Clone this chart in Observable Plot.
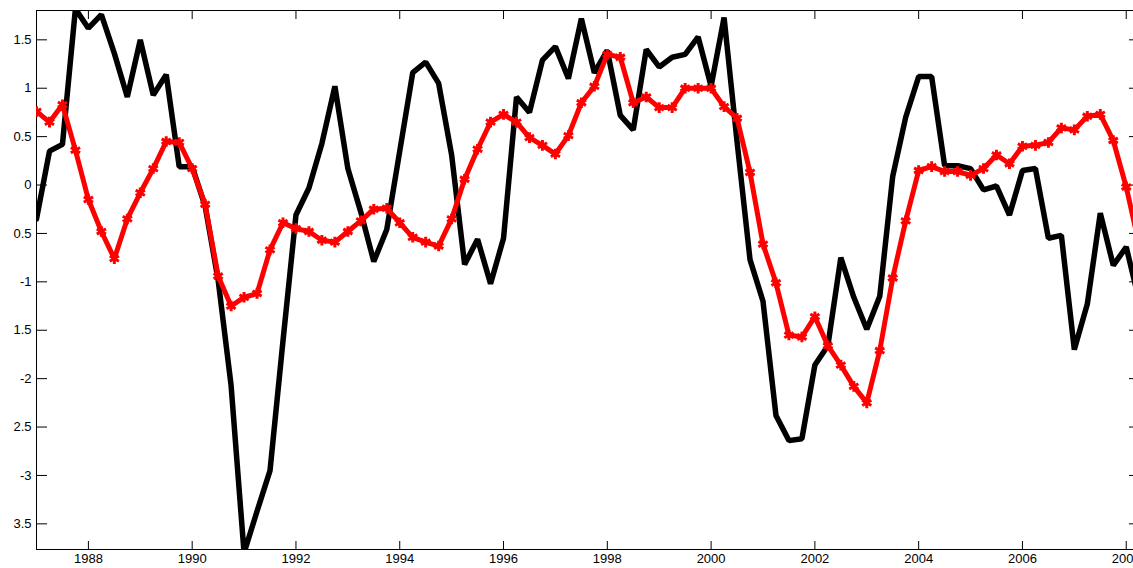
<!DOCTYPE html>
<html>
<head>
<meta charset="utf-8">
<script src="https://cdn.jsdelivr.net/npm/d3@7"></script>
<script src="https://cdn.jsdelivr.net/npm/@observablehq/plot@0.6"></script>
<style>
  html, body { margin: 0; padding: 0; background: #fff; overflow: hidden; }
  #chart svg { display: block; }
</style>
</head>
<body>
<div id="chart"></div>
<script>
// Quarterly series, starting 1987 Q1
const startYear = 1987;
const blackSeries = [
  -0.35, 0.35, 0.42, 1.82,
  1.62, 1.76, 1.36, 0.91,
  1.50, 0.93, 1.14, 0.19,
  0.19, -0.22, -0.98, -2.07,
  -3.80, -3.37, -2.95, -1.61,
  -0.31, -0.03, 0.43, 1.02,
  0.17, -0.28, -0.79, -0.46,
  0.35, 1.16, 1.27, 1.05,
  0.31, -0.82, -0.56, -1.02,
  -0.55, 0.91, 0.75, 1.29,
  1.43, 1.10, 1.72, 1.16,
  1.39, 0.72, 0.57, 1.40,
  1.22, 1.32, 1.35, 1.53,
  1.02, 1.73, 0.45, -0.77,
  -1.20, -2.38, -2.64, -2.62,
  -1.86, -1.66, -0.75, -1.16,
  -1.49, -1.15, 0.09, 0.70,
  1.12, 1.12, 0.20, 0.20,
  0.17, -0.05, -0.01, -0.31,
  0.15, 0.17, -0.55, -0.52,
  -1.70, -1.23, -0.29, -0.83,
  -0.64, -1.20
];
const redSeries = [
  0.76, 0.65, 0.83, 0.36,
  -0.15, -0.48, -0.76, -0.35,
  -0.08, 0.17, 0.45, 0.44,
  0.17, -0.20, -0.94, -1.25,
  -1.16, -1.12, -0.67, -0.39,
  -0.45, -0.48, -0.57, -0.59,
  -0.48, -0.37, -0.25, -0.24,
  -0.39, -0.54, -0.59, -0.63,
  -0.35, 0.06, 0.37, 0.65,
  0.73, 0.65, 0.49, 0.41,
  0.32, 0.51, 0.85, 1.02,
  1.35, 1.32, 0.85, 0.91,
  0.80, 0.80, 1.00, 1.00,
  1.00, 0.81, 0.69, 0.13,
  -0.61, -1.01, -1.55, -1.57,
  -1.36, -1.66, -1.86, -2.08,
  -2.25, -1.71, -0.96, -0.37,
  0.15, 0.19, 0.14, 0.14,
  0.10, 0.17, 0.31, 0.22,
  0.40, 0.41, 0.44, 0.59,
  0.57, 0.71, 0.73, 0.46,
  -0.02, -0.62
];
const xTicks = [1988, 1990, 1992, 1994, 1996, 1998, 2000, 2002, 2004, 2006, 2008];
const yTicks = [1.5, 1, 0.5, 0, -0.5, -1, -1.5, -2, -2.5, -3, -3.5];
const yTickLabels = ["1.5", "1", "0.5", "0", "0.5", "-1", "1.5", "-2", "2.5", "-3", "3.5"];
const xDomain = [1987, 2008.14];
const yDomain = [-3.765, 1.803];

const blackData = blackSeries.map((v, i) => ({t: startYear + i / 4, v}));
const redData = redSeries.map((v, i) => ({t: startYear + i / 4, v}));

const chart = Plot.plot({
  width: 1133,
  height: 568,
  marginLeft: 36,
  marginRight: 0,
  marginTop: 10,
  marginBottom: 19,
  style: {fontFamily: "'Liberation Sans', Arial, Helvetica, sans-serif", fontSize: "13px", color: "black", background: "white"},
  x: {domain: xDomain},
  y: {domain: yDomain},
  marks: [
    Plot.ruleX([xDomain[0]], {stroke: "black", strokeWidth: 1}),
    Plot.ruleY([yDomain[1]], {stroke: "black", strokeWidth: 1}),
    Plot.ruleY([yDomain[0]], {stroke: "black", strokeWidth: 1}),
    Plot.axisY({ticks: yTicks, tickSize: 0, tickPadding: 5, tickFormat: (d) => yTickLabels[yTicks.indexOf(d)], label: null}),
    Plot.axisY({ticks: yTicks, tickSize: -11, tickFormat: () => "", label: null}),
    Plot.axisY({anchor: "right", ticks: yTicks, tickSize: -5, tickFormat: () => "", label: null}),
    Plot.axisX({ticks: xTicks, tickSize: 0, tickPadding: 4, tickFormat: (d) => String(d), label: null}),
    Plot.axisX({ticks: xTicks, tickSize: -8, tickFormat: () => "", label: null}),
    Plot.axisX({anchor: "top", ticks: xTicks, tickSize: -8, tickFormat: () => "", label: null}),
    Plot.line(blackData, {x: "t", y: "v", stroke: "black", strokeWidth: 5.5, strokeLinejoin: "miter", clip: true}),
    Plot.line(redData, {x: "t", y: "v", stroke: "#ff0000", strokeWidth: 5, clip: true}),
    Plot.dot(redData, {x: "t", y: "v", symbol: "asterisk", stroke: "#ff0000", r: 5, strokeWidth: 3, clip: true})
  ]
});
document.getElementById("chart").appendChild(chart);
</script>
</body>
</html>
